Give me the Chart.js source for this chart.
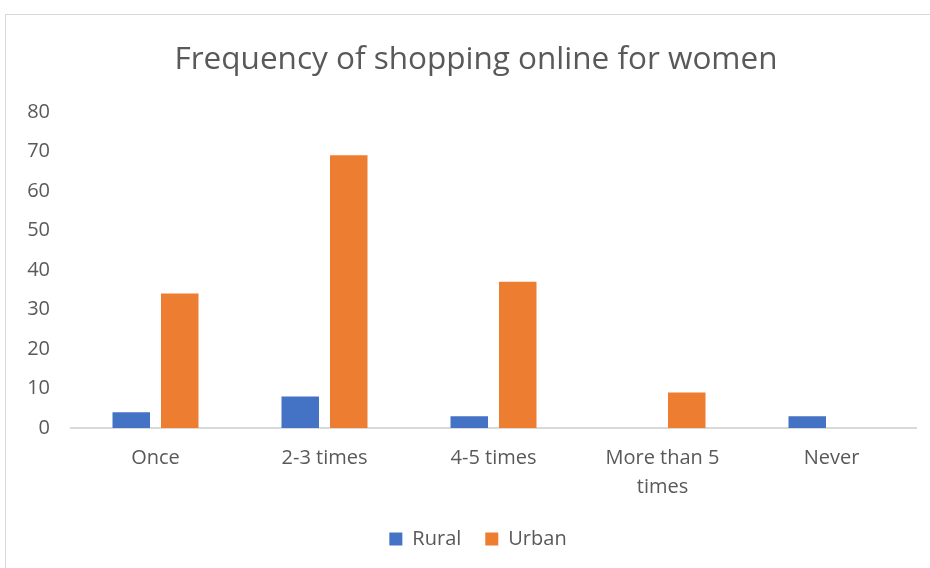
<!DOCTYPE html>
<html>
<head>
<meta charset="utf-8">
<script src="https://cdn.jsdelivr.net/npm/chart.js@4/dist/chart.umd.min.js"></script>
<style>
  html, body { margin: 0; padding: 0; background: #fff; overflow: hidden; }
  #box {
    position: absolute; left: 5px; top: 14px;
    width: 942px; height: 570px;
    border: 1px solid #d9d9d9;
  }
  #wrap { position: absolute; left: 0; top: 0; width: 940px; height: 554px; }
</style>
</head>
<body>
<div id="box"><div id="wrap"><canvas id="myChart"></canvas></div></div>
<script>
const categories = ['Once', '2-3 times', '4-5 times', ['More than 5', 'times'], 'Never'];
const rural = [4, 8, 3, 0, 3];
const urban = [34, 69, 37, 9, 0];
const yTicks = [0, 10, 20, 30, 40, 50, 60, 70, 80];

const textColor = '#595959';
const font = "'Open Sans', 'Liberation Sans', sans-serif";

// nudge title and legend a little right, they are centred on the whole frame in the original
const frameCentre = {
  id: 'frameCentre',
  afterLayout(chart) {
    if (chart.titleBlock) {
      chart.titleBlock.left += 5;
      chart.titleBlock.right += 5;
    }
    if (chart.legend) {
      chart.legend.left += 7;
      chart.legend.right += 7;
    }
  }
};

const ctx = document.getElementById('myChart').getContext('2d');
const myChart = new Chart(ctx, {
  type: 'bar',
  data: {
    labels: categories,
    datasets: [{
      label: 'Rural',
      data: rural,
      backgroundColor: '#4472c4',
      categoryPercentage: 0.574,
      barPercentage: 0.773
    }, {
      label: 'Urban',
      data: urban,
      backgroundColor: '#ed7d31',
      categoryPercentage: 0.574,
      barPercentage: 0.773
    }]
  },
  plugins: [frameCentre],
  options: {
    responsive: true,
    maintainAspectRatio: false,
    animation: false,
    layout: { padding: { left: 20, right: 30, top: 20, bottom: 10 } },
    plugins: {
      title: {
        display: true,
        text: 'Frequency of shopping online for women',
        color: textColor,
        font: { family: font, size: 31.5, weight: 'normal' },
        padding: { top: 6, bottom: 33 }
      },
      legend: {
        position: 'bottom',
        labels: {
          color: textColor,
          font: { family: font, size: 20 },
          boxWidth: 13,
          boxHeight: 13,
          padding: 24
        }
      },
      tooltip: { enabled: false }
    },
    scales: {
      x: {
        afterFit: (scale) => { scale.height -= 13; },
        grid: { display: false, drawTicks: false },
        border: { display: true, color: '#d9d9d9', width: 2 },
        ticks: {
          color: textColor,
          font: { family: font, size: 20, lineHeight: 1.45 },
          padding: 16,
          maxRotation: 0
        }
      },
      y: {
        min: 0,
        max: 80,
        afterBuildTicks: (scale) => { scale.ticks = yTicks.map(v => ({ value: v })); },
        afterFit: (scale) => { scale.width = 45; },
        grid: { display: false, drawTicks: false },
        border: { display: false },
        ticks: {
          color: textColor,
          font: { family: font, size: 20 },
          padding: 21
        }
      }
    }
  }
});
</script>
</body>
</html>
